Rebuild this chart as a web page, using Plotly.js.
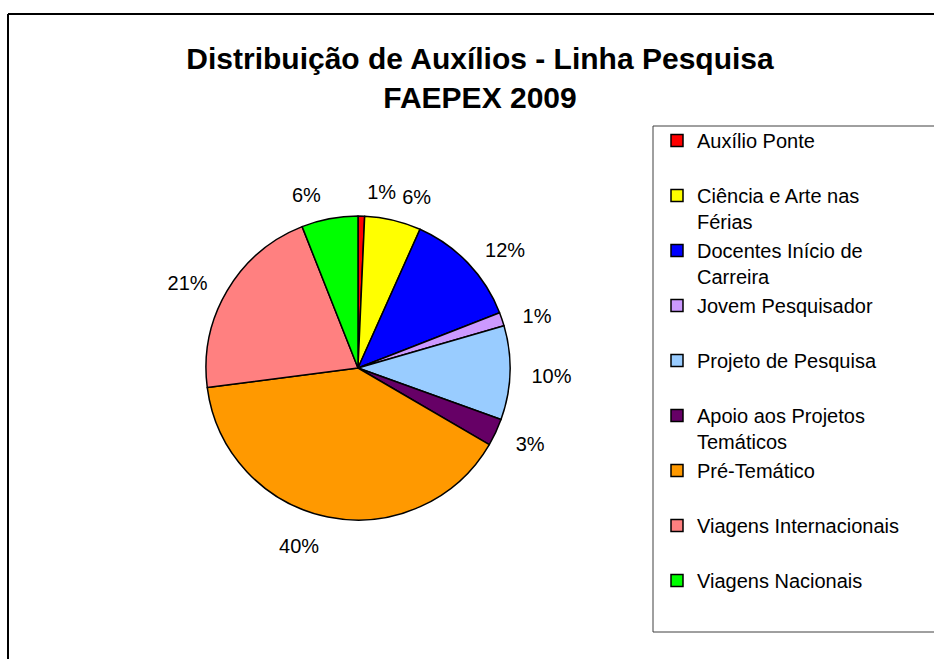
<!DOCTYPE html>
<html>
<head>
<meta charset="utf-8">
<script src="https://cdn.plot.ly/plotly-3.0.1.min.js"></script>
<style>
html, body { margin: 0; padding: 0; background: #ffffff; }
#chart { width: 934px; height: 659px; }
</style>
</head>
<body>
<div id="chart"></div>
<script>
// Categories as shown in the legend (wrapped as in the reference)
var categories = [
  "Auxílio Ponte<br> ",
  "Ciência e Arte nas<br>Férias",
  "Docentes Início de<br>Carreira",
  "Jovem Pesquisador<br> ",
  "Projeto de Pesquisa<br> ",
  "Apoio aos Projetos<br>Temáticos",
  "Pré-Temático<br> ",
  "Viagens Internacionais<br> ",
  "Viagens Nacionais<br> "
];
// Share of each line (percent)
var shares = [0.7, 6.0, 12.4, 1.45, 10.0, 2.9, 39.6, 21.1, 6.0];
var sliceColors = ["#FF0000", "#FFFF00", "#0000FF", "#CC99FF", "#99CCFF", "#660066", "#FF9900", "#FF8080", "#00FF00"];

var titleText = "Distribuição de Auxílios - Linha Pesquisa<br>FAEPEX 2009";

var W = 934, H = 659;
function px(x) { return x / W; }
function py(y) { return 1 - y / H; }

var FONT = "Liberation Sans, Arial, sans-serif";
var transparent = categories.map(function () { return "rgba(0,0,0,0)"; });

// visible pie
var pieTrace = {
  type: "pie",
  labels: categories,
  values: shares,
  sort: false,
  direction: "clockwise",
  rotation: 0,
  marker: { colors: sliceColors, line: { color: "#000000", width: 1.5 } },
  textinfo: "none",
  hoverinfo: "label+percent",
  domain: { x: [px(206), px(510)], y: [py(521), py(215)] }
};

// percentage labels, carried by a slightly larger transparent pie so they sit further out
function labelTrace(showIdx) {
  return {
    type: "pie",
    labels: categories,
    values: shares,
    sort: false,
    direction: "clockwise",
    rotation: 0,
    showlegend: false,
    hoverinfo: "skip",
    marker: { colors: transparent, line: { width: 0 } },
    textposition: "outside",
    texttemplate: categories.map(function (c, i) { return showIdx(i) ? "%{percent:.0%}" : ""; }),
    textfont: { family: FONT, size: 20, color: "#000000" },
    domain: { x: [px(190), px(526)], y: [py(539), py(203)] }
  };
}
var labelsA = labelTrace(function (i) { return i !== 0; });
var labelsB = labelTrace(function (i) { return i === 0; });

var frameLine = { color: "#000000", width: 2 };
var layout = {
  width: W, height: H,
  margin: { l: 0, r: 0, t: 0, b: 0 },
  paper_bgcolor: "#ffffff",
  font: { family: FONT, color: "#000000" },
  title: {
    text: titleText,
    font: { family: FONT, size: 30, weight: "bold", color: "#000000" },
    x: px(480), xanchor: "center", xref: "container",
    y: 1 - 69 / H, yanchor: "middle", yref: "container"
  },
  showlegend: true,
  legend: {
    x: px(657), xanchor: "left",
    y: py(121), yanchor: "top",
    bgcolor: "rgba(0,0,0,0)",
    borderwidth: 0,
    valign: "top",
    font: { family: FONT, size: 20, color: "#000000" }
  },
  shapes: [
    { type: "line", xref: "paper", yref: "paper", x0: px(8), x1: 1.02, y0: py(14), y1: py(14), line: frameLine, layer: "above" },
    { type: "line", xref: "paper", yref: "paper", x0: px(8), x1: px(8), y0: py(14), y1: -0.02, line: frameLine, layer: "above" },
    { type: "rect", xref: "paper", yref: "paper", x0: px(653), x1: 1.02, y0: py(632), y1: py(126),
      line: { color: "#404040", width: 1 }, fillcolor: "rgba(0,0,0,0)", layer: "below" }
  ]
};

Plotly.newPlot("chart", [pieTrace, labelsA, labelsB], layout, { displayModeBar: false, staticPlot: true });
</script>
</body>
</html>
